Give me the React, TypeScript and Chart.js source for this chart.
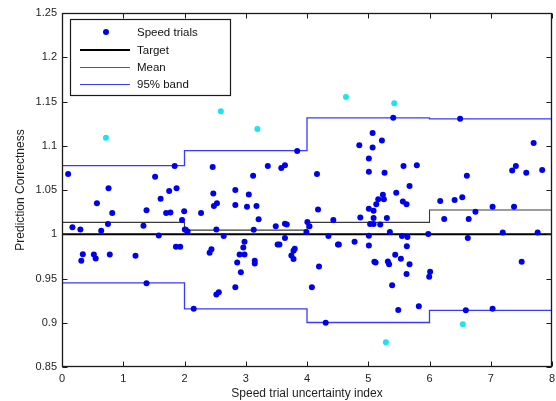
import React, { useEffect, useRef } from "react";
import { Chart, registerables } from "chart.js";

Chart.register(...registerables);

// ---------- data ----------
const trialX = [
  0.10, 1.84, 1.52, 0.76, 1.75, 1.87, 1.61, 0.57, 0.82, 1.38, 1.70, 1.77, 1.995, 1.96, 0.17, 0.30, 0.64, 0.75, 1.33, 1.58, 1.86, 1.93, 0.34, 0.315, 0.52, 0.55, 0.78, 1.20, 1.38,
  2.005, 2.02, 2.05, 3.84, 2.46, 3.36, 3.58, 3.64, 3.12, 2.83, 2.47, 3.05, 2.48, 2.53, 2.83, 3.02, 3.175, 2.27, 3.21, 3.49, 3.64, 3.67, 3.99, 2.52, 3.13, 2.64, 3.64, 2.98, 2.96, 2.44, 2.41, 3.52, 3.55, 3.80, 3.78, 2.90, 2.98, 3.745, 3.78, 2.86, 3.147, 3.147, 2.92, 2.83, 2.52, 2.56, 2.15,
  4.006, 4.04, 4.08, 5.408, 5.071, 5.223, 4.854, 5.071, 5.01, 5.576, 5.793, 4.163, 5.01, 5.266, 5.674, 5.457, 5.239, 5.163, 5.255, 5.565, 5.625, 5.131, 4.18, 5.01, 5.087, 4.87, 5.087, 5.304, 4.43, 5.03, 5.087, 5.196, 5.353, 5.98, 4.35, 5.01, 5.55, 5.64, 4.505, 4.52, 4.777, 5.01, 5.63, 5.44, 5.533, 5.10, 5.12, 5.32, 5.34, 5.674, 4.196, 6.01, 5.995, 5.625, 5.39, 5.826, 5.49, 4.305,
  6.50, 7.70, 7.41, 7.35, 7.58, 7.84, 6.61, 6.175, 6.41, 6.535, 7.03, 7.38, 6.75, 6.24, 6.64, 7.196, 7.766, 6.625, 7.505, 6.593, 7.03,
];
const trialY = [
  1.068, 1.077, 1.065, 1.052, 1.049, 1.052, 1.040, 1.035, 1.024, 1.027, 1.024, 1.0245, 1.026, 1.016, 1.008, 1.0055, 1.004, 1.0115, 1.0096, 0.9987, 0.986, 0.986, 0.9775, 0.970, 0.977, 0.9725, 0.977, 0.9757, 0.9447,
  1.0055, 1.005, 1.003, 1.094, 1.076, 1.077, 1.075, 1.078, 1.066, 1.050, 1.046, 1.045, 1.032, 1.035, 1.033, 1.031, 1.032, 1.024, 1.017, 1.009, 1.012, 1.011, 1.0025, 1.0055, 1.005, 0.998, 0.9957, 0.9915, 0.985, 0.983, 0.979, 0.9885, 0.9885, 0.9836, 0.9813, 0.977, 0.977, 0.976, 0.972, 0.968, 0.970, 0.967, 0.957, 0.940, 0.932, 0.9345, 0.9157,
  1.0138, 1.009, 0.940, 1.1315, 1.1145, 1.106, 1.1006, 1.098, 1.0855, 1.077, 1.078, 1.068, 1.0707, 1.0696, 1.0545, 1.047, 1.0447, 1.0395, 1.0395, 1.037, 1.034, 1.034, 1.028, 1.0289, 1.0266, 1.019, 1.0183, 1.0183, 1.016, 1.0115, 1.0115, 1.011, 1.0025, 1.0002, 0.998, 0.9983, 0.998, 0.9968, 0.9885, 0.9885, 0.9915, 0.9874, 0.9863, 0.9768, 0.9722, 0.969, 0.968, 0.9693, 0.9662, 0.966, 0.9636, 0.9575, 0.952, 0.955, 0.9425, 0.9187, 0.9145, 0.900,
  1.1304, 1.103, 1.077, 1.072, 1.0696, 1.0727, 1.066, 1.0376, 1.0387, 1.0417, 1.031, 1.031, 1.0254, 1.0172, 1.0172, 1.002, 1.002, 0.9957, 0.969, 0.914, 0.9157,
];
const outlierX = [0.717, 2.593, 3.19, 4.636, 5.424, 5.288, 6.544];
const outlierY = [1.109, 1.139, 1.119, 1.155, 1.148, 0.878, 0.8983];

const binEdges = [0, 2, 4, 6, 8];
const meanValues = [1.0134, 1.0047, 1.0134, 1.0274];
const upperBand = [1.0775, 1.0945, 1.1316, 1.1304];
const lowerBand = [0.945, 0.9157, 0.9003, 0.9139];
const targetValue = 1;

const xTicks = [0, 1, 2, 3, 4, 5, 6, 7, 8];
const yTicks = [0.85, 0.9, 0.95, 1, 1.05, 1.1, 1.15, 1.2, 1.25];
const yTickLabels = ["0.85", "0.9", "0.95", "1", "1.05", "1.1", "1.15", "1.2", "1.25"];
const legendLabels = ["Speed trials", "Target", "Mean", "95% band"];

// ---------- styles ----------
const FONT = "'Liberation Sans', Arial, Helvetica, sans-serif";
const BLUE = "#0000f0";
const CYAN = "#18e4f2";
const BAND = "#3a3aff";
const MEAN = "#3a3a3a";

const stepPoints = (vals: number[]) =>
  binEdges.map((x, i) => ({ x, y: vals[Math.min(i, vals.length - 1)] }));

const axesPlugin = {
  id: "matlabAxes",
  afterDatasetsDraw(chart: any) {
    const { ctx, chartArea: a, scales } = chart;
    const xs = scales.x;
    const ys = scales.y;
    const L = Math.round(a.left) + 0.5;
    const R = Math.round(a.right) - 0.5;
    const T = Math.round(a.top) + 0.5;
    const B = Math.round(a.bottom) - 0.5;
    ctx.save();
    ctx.strokeStyle = "#1a1a1a";
    ctx.lineWidth = 1.3;
    ctx.strokeRect(L, T, R - L, B - T);
    ctx.lineWidth = 1;
    const tl = 5;
    ctx.beginPath();
    xTicks.forEach((v) => {
      const px = Math.round(xs.getPixelForValue(v)) + 0.5;
      ctx.moveTo(px, B);
      ctx.lineTo(px, B - tl);
      ctx.moveTo(px, T);
      ctx.lineTo(px, T + tl);
    });
    yTicks.forEach((v) => {
      const py = Math.round(ys.getPixelForValue(v)) + 0.5;
      ctx.moveTo(L, py);
      ctx.lineTo(L + tl, py);
      ctx.moveTo(R, py);
      ctx.lineTo(R - tl, py);
    });
    ctx.stroke();
    ctx.restore();
  },
  afterDraw(chart: any) {
    const { ctx } = chart;
    const bx = 70.5, by = 19.5, bw = 160, bh = 76;
    ctx.save();
    ctx.fillStyle = "#ffffff";
    ctx.fillRect(bx, by, bw, bh);
    ctx.strokeStyle = "#1a1a1a";
    ctx.lineWidth = 1.2;
    ctx.strokeRect(bx, by, bw, bh);
    const rows = [32, 50, 67.5, 84.5];
    const x0 = 80, x1 = 130, tx = 137;
    ctx.fillStyle = BLUE;
    ctx.beginPath();
    ctx.arc(106, rows[0], 3, 0, Math.PI * 2);
    ctx.fill();
    const lineStyles = [
      { c: "#000000", w: 2 },
      { c: "#5a5a5a", w: 1.2 },
      { c: BAND, w: 1.2 },
    ];
    lineStyles.forEach((s, i) => {
      ctx.strokeStyle = s.c;
      ctx.lineWidth = s.w;
      ctx.beginPath();
      ctx.moveTo(x0, rows[i + 1]);
      ctx.lineTo(x1, rows[i + 1]);
      ctx.stroke();
    });
    ctx.fillStyle = "#111111";
    ctx.font = `11.5px ${FONT}`;
    ctx.textBaseline = "middle";
    ctx.textAlign = "left";
    legendLabels.forEach((t, i) => ctx.fillText(t, tx, rows[i] + 0.5));
    ctx.restore();
  },
};

export default function App() {
  const ref = useRef<HTMLCanvasElement | null>(null);

  useEffect(() => {
    document.body.style.margin = "0";
    const canvas = ref.current;
    if (!canvas) return;
    const chart = new Chart(canvas, {
      type: "scatter",
      data: {
        datasets: [
          {
            label: "Speed trials",
            data: trialX.map((x, i) => ({ x, y: trialY[i] })),
            backgroundColor: BLUE,
            borderWidth: 0,
            pointRadius: 3,
            order: 1,
          },
          {
            label: "Outliers",
            data: outlierX.map((x, i) => ({ x, y: outlierY[i] })),
            backgroundColor: CYAN,
            borderWidth: 0,
            pointRadius: 3,
            order: 1,
          },
          {
            label: "Target",
            type: "line",
            data: [
              { x: binEdges[0], y: targetValue },
              { x: binEdges[binEdges.length - 1], y: targetValue },
            ],
            borderColor: "#000000",
            borderWidth: 2,
            pointRadius: 0,
            showLine: true,
            order: 2,
          },
          {
            label: "Mean",
            type: "line",
            data: stepPoints(meanValues),
            stepped: "before",
            borderColor: MEAN,
            borderWidth: 1.1,
            pointRadius: 0,
            showLine: true,
            order: 3,
          },
          {
            label: "95% band upper",
            type: "line",
            data: stepPoints(upperBand),
            stepped: "before",
            borderColor: BAND,
            borderWidth: 1.3,
            pointRadius: 0,
            showLine: true,
            order: 3,
          },
          {
            label: "95% band lower",
            type: "line",
            data: stepPoints(lowerBand),
            stepped: "before",
            borderColor: BAND,
            borderWidth: 1.3,
            pointRadius: 0,
            showLine: true,
            order: 3,
          },
        ] as any,
      },
      options: {
        animation: false,
        responsive: false,
        maintainAspectRatio: false,
        layout: { padding: { left: 0, right: 3, top: 13, bottom: 0 } },
        plugins: {
          legend: { display: false },
          tooltip: { enabled: false },
        },
        scales: {
          x: {
            type: "linear",
            min: 0,
            max: 8,
            afterBuildTicks: (s: any) => {
              s.ticks = xTicks.map((v) => ({ value: v }));
            },
            afterFit: (s: any) => {
              s.height = 34;
              s.paddingLeft = 0;
              s.paddingRight = 0;
              s.paddingTop = 0;
              s.paddingBottom = 0;
            },
            grid: { display: false, drawTicks: false },
            border: { display: false },
            ticks: {
              padding: 5,
              autoSkip: false,
              maxRotation: 0,
              color: "#1e1e1e",
              font: { family: FONT, size: 11 },
              callback: (v: any) => String(v),
            },
            title: {
              display: true,
              text: "Speed trial uncertainty index",
              color: "#1e1e1e",
              font: { family: FONT, size: 12 },
              padding: { top: 0, bottom: 0 },
            },
          },
          y: {
            type: "linear",
            min: 0.85,
            max: 1.25,
            afterBuildTicks: (s: any) => {
              s.ticks = yTicks.map((v) => ({ value: v }));
            },
            afterFit: (s: any) => {
              s.width = 62;
              s.paddingLeft = 0;
              s.paddingRight = 0;
              s.paddingTop = 0;
              s.paddingBottom = 0;
            },
            grid: { display: false, drawTicks: false },
            border: { display: false },
            ticks: {
              padding: 5,
              autoSkip: false,
              color: "#1e1e1e",
              font: { family: FONT, size: 11 },
              callback: (_v: any, i: number) => yTickLabels[i],
            },
            title: {
              display: true,
              text: "Prediction Correctness",
              color: "#1e1e1e",
              font: { family: FONT, size: 12 },
              padding: { top: 13, bottom: 0 },
            },
          },
        },
      } as any,
      plugins: [axesPlugin],
    });
    return () => chart.destroy();
  }, []);

  return (
    <canvas
      ref={ref}
      width={556}
      height={401}
      style={{ display: "block", width: 556, height: 401 }}
    />
  );
}
